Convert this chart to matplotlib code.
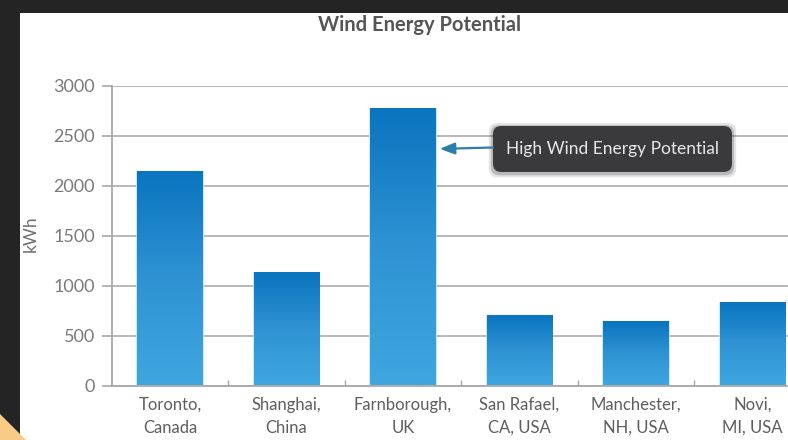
import numpy as np
import matplotlib
matplotlib.use("Agg")
import matplotlib.pyplot as plt
from matplotlib.patches import Rectangle, FancyBboxPatch, Polygon

plt.rcParams['font.family'] = ['Lato', 'DejaVu Sans']

cities = ["Toronto,\nCanada", "Shanghai,\nChina", "Farnborough,\nUK",
          "San Rafael,\nCA, USA", "Manchester,\nNH, USA", "Novi,\nMI, USA"]
kwh = [2140, 1130, 2770, 700, 640, 830]
y_ticks = [0, 500, 1000, 1500, 2000, 2500, 3000]
callout_text = "High Wind Energy Potential"
callout_level = 2370

W, H = 788, 440
fig = plt.figure(figsize=(W / 100, H / 100), dpi=100, facecolor="#242424")

# white card behind the chart, plus the orange corner accent
fig.patches.append(Rectangle((20 / W, 0), 1 - 20 / W, (H - 13) / H,
                             transform=fig.transFigure, facecolor="white",
                             edgecolor="none", zorder=-5))
fig.patches.append(Polygon([(0, 0), (0, 26 / H), (26 / W, 0)], closed=True,
                           transform=fig.transFigure, facecolor="#f8cc87",
                           edgecolor="none", zorder=-4))

ax_left, ax_right = 111.75, 810.75
ax_bottom, ax_top = 385.5, 86
ax = fig.add_axes([ax_left / W, (H - ax_bottom) / H,
                   (ax_right - ax_left) / W, (ax_bottom - ax_top) / H])
ax.set_zorder(2)
ax.set_facecolor("none")

x = np.arange(len(cities))
bar_w = 0.56

# vertical gradient, dark blue at the top fading to light blue at the bottom
grad = np.linspace(0, 1, 256).reshape(-1, 1)
cmap = matplotlib.colors.LinearSegmentedColormap.from_list(
    "bar", ["#3fa6e0", "#2f93d3", "#0a74bf"])
for xi, v in zip(x, kwh):
    ax.imshow(grad, extent=[xi - bar_w / 2, xi + bar_w / 2, 0, v],
              origin="lower", cmap=cmap, aspect="auto", zorder=3)
    ax.add_patch(Rectangle((xi - bar_w / 2, 0), bar_w, v, facecolor="none",
                           edgecolor="#bfe7f8", lw=1.2, zorder=2))

ax.set_xlim(-0.5, len(cities) - 0.5)
ax.set_ylim(0, 3000)

ax.set_yticks(y_ticks)
ax.set_yticklabels([str(t) for t in y_ticks])
ax.yaxis.grid(True, color="#b3b3b3", lw=1.3, zorder=1)
ax.set_axisbelow(True)
ax.tick_params(axis="y", length=7, width=1.2, color="#a8a8a8", pad=5,
               labelsize=13, labelcolor="#7a7a7a")

ax.set_xticks(x)
ax.set_xticklabels(cities, linespacing=1.55)
ax.set_xticks(np.arange(len(cities) - 1) + 0.5, minor=True)
ax.tick_params(axis="x", which="major", length=0, pad=8, labelsize=12,
               labelcolor="#5e5e5e")
ax.tick_params(axis="x", which="minor", direction="in", length=4,
               width=1.0, color="#a8a8a8")

for side in ("top", "right"):
    ax.spines[side].set_visible(False)
for side in ("left", "bottom"):
    ax.spines[side].set_color("#a8a8a8")
    ax.spines[side].set_linewidth(1.3)

ax.set_ylabel("kWh", fontsize=12.5, color="#6e6e6e")
ax.yaxis.set_label_coords(-0.105, 0.507)

fig.text(420 / W, 1 - 25 / H, "Wind Energy Potential", ha="center",
         va="center", fontsize=14.5, fontweight="bold", color="#555555")

# callout box with a soft shadow
box_x0, box_x1 = 0.5454, 0.8873
box_y0, box_y1 = 0.7129, 0.8664
for grow, alpha in ((0.006, 0.12), (0.003, 0.22)):
    ax.add_patch(FancyBboxPatch((box_x0 - grow, box_y0 - grow * 2.3 - 0.004),
                                box_x1 - box_x0 + 2 * grow,
                                box_y1 - box_y0 + grow * 4.6,
                                boxstyle="round,pad=0,rounding_size=0.012",
                                transform=ax.transAxes, facecolor="#222222",
                                edgecolor="none", alpha=alpha, zorder=5,
                                mutation_aspect=2.3, clip_on=False))
ax.add_patch(FancyBboxPatch((box_x0, box_y0), box_x1 - box_x0, box_y1 - box_y0,
                            boxstyle="round,pad=0,rounding_size=0.012",
                            transform=ax.transAxes, facecolor="#3a3a3c",
                            edgecolor="none", zorder=6, mutation_aspect=2.3,
                            clip_on=False))
ax.text((box_x0 + box_x1) / 2, (box_y0 + box_y1) / 2, callout_text,
        transform=ax.transAxes, ha="center", va="center", fontsize=12.5,
        color="#e8e8e8", zorder=7)

ax.annotate("", xy=(2 + bar_w / 2 + 0.035, callout_level),
            xytext=(box_x0, (box_y0 + box_y1) / 2 + 0.005),
            textcoords="axes fraction",
            arrowprops=dict(arrowstyle="-|>,head_length=0.9,head_width=0.35",
                            color="#2c7eae", lw=1.6, shrinkA=0, shrinkB=0),
            zorder=6)

fig.savefig("out.png", dpi=100, facecolor=fig.get_facecolor())
